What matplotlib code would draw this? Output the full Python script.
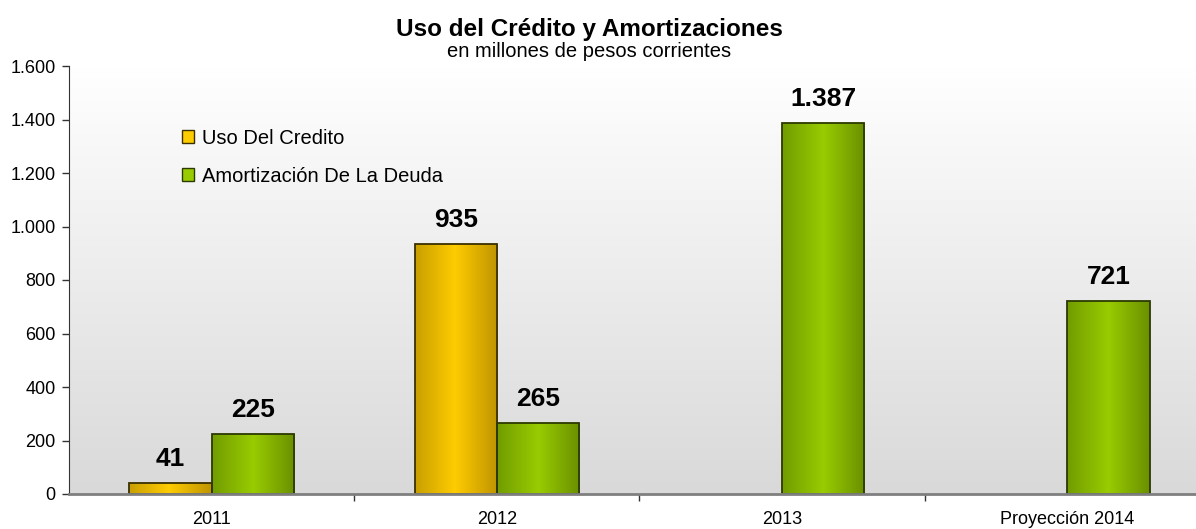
import numpy as np
import matplotlib
matplotlib.use('Agg')
import matplotlib.pyplot as plt
from matplotlib.colors import LinearSegmentedColormap
from matplotlib.patches import Patch
from matplotlib.ticker import FuncFormatter, FixedLocator

plt.rcParams['font.family'] = ['Liberation Sans', 'DejaVu Sans']

# Datos (millones de pesos corrientes)
categorias = ['2011', '2012', '2013', 'Proyección 2014']
uso_credito = [41, 935, None, None]
amortizacion = [225, 265, 1387, 721]
series_nombres = ['Uso Del Credito', 'Amortización De La Deuda']

amarillo = LinearSegmentedColormap.from_list(
    'amarillo', [(0, '#c89f00'), (0.48, '#ffcc00'), (1, '#bf9400')])
verde = LinearSegmentedColormap.from_list(
    'verde', [(0, '#729c00'), (0.5, '#99cc00'), (1, '#6a9000')])

fig = plt.figure(figsize=(11.96, 5.29), dpi=100)
ax = fig.add_axes([69 / 1196, 35 / 529, 1141 / 1196, 428 / 529])

# fondo del área de gráfico: degradé vertical blanco (arriba) -> gris (abajo)
fondo = np.linspace(0, 1, 256).reshape(-1, 1)
fondo_cmap = LinearSegmentedColormap.from_list('fondo', ['#ffffff', '#d9d9d9'])
ax.imshow(fondo, cmap=fondo_cmap, aspect='auto', extent=[0, 1, 0, 1],
          origin='upper', transform=ax.transAxes, zorder=0)

x = np.arange(len(categorias))
ancho = 0.288


def barras_degrade(posiciones, valores, cmap, borde):
    grad = np.linspace(0, 1, 128).reshape(1, -1)
    for xp, v in zip(posiciones, valores):
        if v is None:
            continue
        rect = ax.bar(xp, v, width=ancho, facecolor='none', edgecolor=borde,
                      linewidth=1.3, zorder=3)[0]
        im = ax.imshow(grad, cmap=cmap, aspect='auto', zorder=2,
                       extent=[xp - ancho / 2, xp + ancho / 2, 0, v])
        im.set_clip_path(rect)
        ax.annotate(f'{v:,}'.replace(',', '.'), xy=(xp, v), xytext=(0, 12),
                    textcoords='offset points', ha='center', va='baseline',
                    fontsize=19, fontweight='bold', zorder=4)


barras_degrade(x - ancho / 2, uso_credito, amarillo, '#3a3000')
barras_degrade(x + ancho / 2, amortizacion, verde, '#2c3a00')

ax.set_xlim(-0.5, len(categorias) - 0.5)
ax.set_ylim(0, 1600)
ax.set_yticks(np.arange(0, 1601, 200))
ax.yaxis.set_major_formatter(FuncFormatter(lambda v, _: f'{int(v):,}'.replace(',', '.')))
ax.set_xticks(x)
ax.set_xticklabels(categorias)
ax.xaxis.set_minor_locator(FixedLocator(x[:-1] + 0.5))

ax.tick_params(axis='y', length=5, width=1, pad=4.5, labelsize=13, color='#333333')
ax.tick_params(axis='x', which='major', length=0, pad=12, labelsize=13)
ax.tick_params(axis='x', which='minor', length=5, width=1, color='#333333')

for lado in ['top', 'right']:
    ax.spines[lado].set_visible(False)
ax.spines['left'].set_color('#333333')
ax.spines['bottom'].set_color('#7f7f7f')
ax.spines['bottom'].set_linewidth(2)
ax.spines['bottom'].set_zorder(5)

handles = [Patch(facecolor='#ffcc00', edgecolor='#3a3000', linewidth=1),
           Patch(facecolor='#99cc00', edgecolor='#2c3a00', linewidth=1)]
ax.legend(handles, series_nombres, loc='upper left', bbox_to_anchor=(0.092, 0.872),
          frameon=False, fontsize=14.5, handlelength=0.6, handleheight=0.6,
          handletextpad=0.4, labelspacing=0.95, borderaxespad=0)

fig.text(589 / 1196, 1 - 36 / 529, 'Uso del Crédito y Amortizaciones',
         ha='center', va='baseline', fontsize=17.5, fontweight='bold')
fig.text(589 / 1196, 1 - 57 / 529, 'en millones de pesos corrientes',
         ha='center', va='baseline', fontsize=14.5)

fig.savefig('out.png', dpi=100)
